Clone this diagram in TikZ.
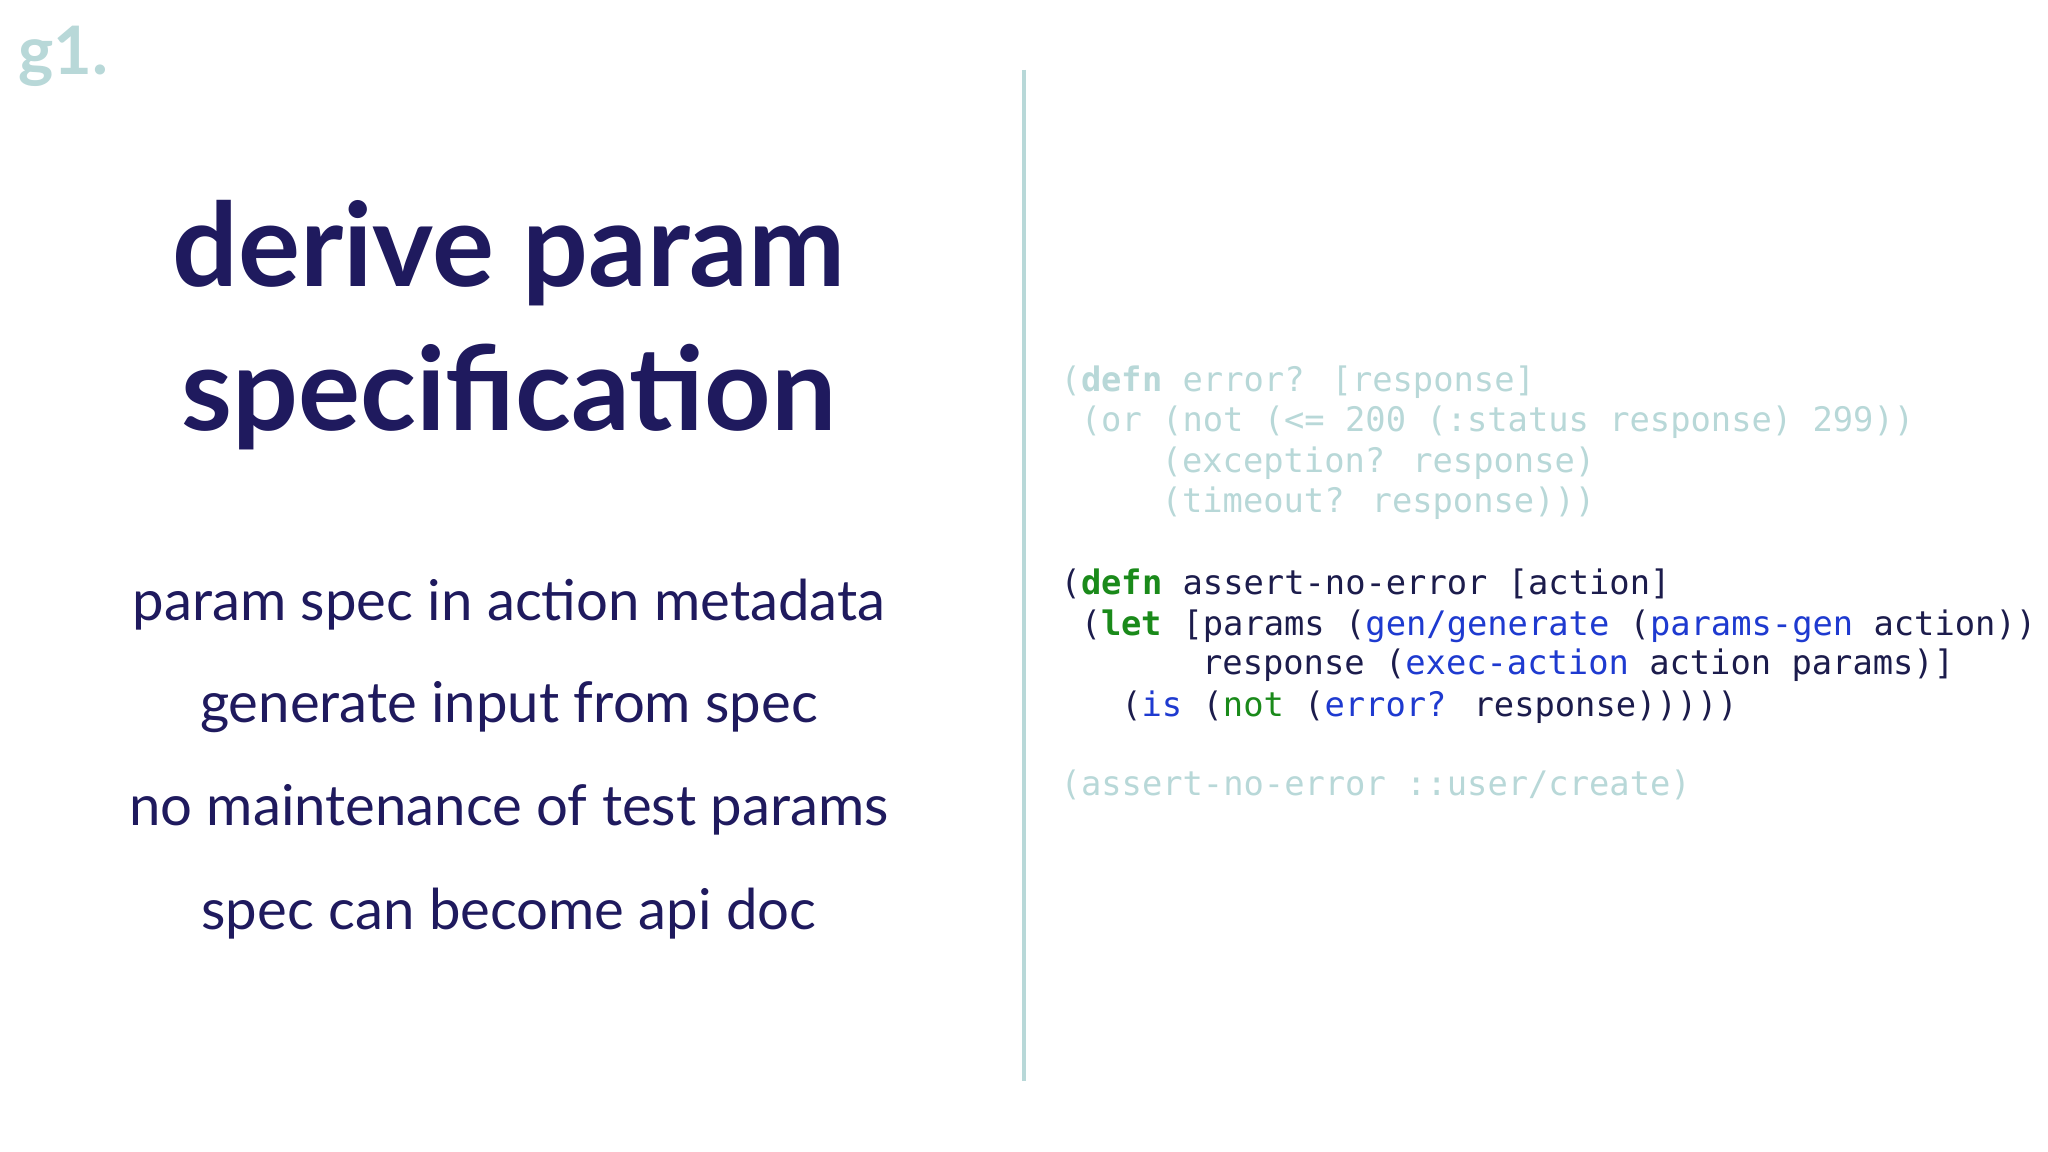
\documentclass[tikz,border=0pt]{standalone}
\usepackage{fontspec}
\setmainfont{Lato}
\newfontfamily\codefont{DejaVu Sans Mono}
\definecolor{navy}{HTML}{1F1A5E}
\definecolor{faint}{HTML}{B8D8D8}
\definecolor{codeink}{HTML}{1C1C4C}
\definecolor{cgreen}{HTML}{1A8A1A}
\definecolor{cblue}{HTML}{1E3AD0}
\begin{document}
\begin{tikzpicture}[x=0.01cm,y=-0.01cm,
  title/.style={anchor=base,text=navy,font=\fontsize{33}{36}\selectfont\bfseries},
  bullet/.style={anchor=base,text=navy,font=\fontsize{16}{19}\selectfont},
  code/.style={anchor=base west,inner sep=0pt,font=\codefont\fontsize{9.6}{11}\selectfont}]
\useasboundingbox[fill=white] (0,0) rectangle (2048,1152);
\node[anchor=north west,text=faint,font=\fontsize{19}{22}\selectfont\bfseries] (logo) at (6,14) {g1.};
\draw[faint,line width=1.2pt] (1024,70) coordinate (d1) -- (1024,1081) coordinate (d2);
\node[title] (t1) at (509,287) {derive param};
\node[title] (t2) at (509,431) {specification};
\node[bullet] (b1) at (509,620) {param spec in action metadata};
\node[bullet] (b2) at (509,722) {generate input from spec};
\node[bullet] (b3) at (509,825) {no maintenance of test params};
\node[bullet] (b4) at (509,929) {spec can become api doc};
\def\cw{20.2}
\node[code,text=faint] (c1) at (1060,392) {(\textbf{defn} error? [response]};
\node[code,text=faint] (c2) at (1060+\cw,432) {(or (not (<= 200 (:status response) 299))};
\node[code,text=faint] (c3) at (1060+5*\cw,473) {(exception? response)};
\node[code,text=faint] (c4) at (1060+5*\cw,513) {(timeout? response)))};
\node[code,text=codeink] (c5) at (1060,594) {(\textcolor{cgreen}{\textbf{defn}} assert-no-error [action]};
\node[code,text=codeink] (c6) at (1060+\cw,635) {(\textcolor{cgreen}{\textbf{let}} [params (\textcolor{cblue}{gen/generate} (\textcolor{cblue}{params-gen} action))};
\node[code,text=codeink] (c7) at (1060+7*\cw,675) {response (\textcolor{cblue}{exec-action} action params)]};
\node[code,text=codeink] (c8) at (1060+3*\cw,716) {(\textcolor{cblue}{is} (\textcolor{cgreen}{not} (\textcolor{cblue}{error?} response)))))};
\node[code,text=faint] (c9) at (1060,795) {(assert-no-error ::user/create)};
\end{tikzpicture}
\end{document}
